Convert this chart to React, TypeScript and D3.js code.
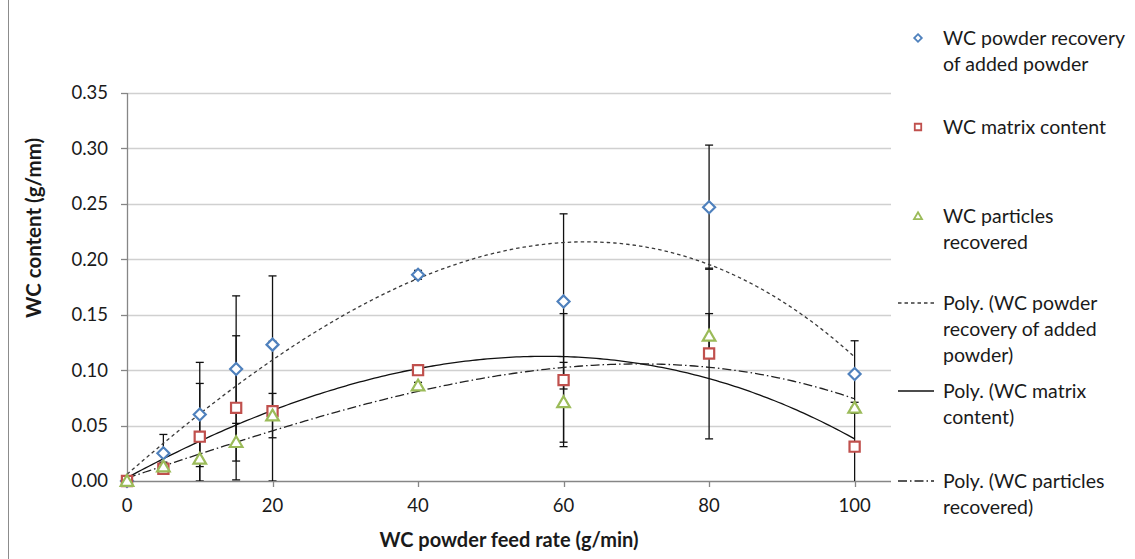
import React from 'react';
import * as d3 from 'd3';

// WC powder feed rate (g/min)
const feedRates = [0, 5, 10, 15, 20, 40, 60, 80, 100];

// WC content (g/mm) per series
const powderRecovery = [0, 0.025, 0.06, 0.101, 0.123, 0.186, 0.162, 0.247, 0.0965];
const matrixContent = [0, 0.011, 0.04, 0.066, 0.063, 0.1, 0.091, 0.115, 0.031];
const particlesRecovered = [0, 0.013, 0.02, 0.035, 0.059, 0.086, 0.071, 0.131, 0.066];

// Error bar half-widths (g/mm)
const powderRecoveryErr = [0, 0.017, 0.047, 0.066, 0.062, 0.004, 0.079, 0.056, 0.03];
const matrixContentErr = [0, 0.005, 0.048, 0.065, 0.063, 0.002, 0.06, 0.077, 0.035];
const particlesRecoveredErr = [0, 0.004, 0.02, 0.017, 0.02, 0.003, 0.036, 0.02, 0.005];

const yTicks = [0, 0.05, 0.1, 0.15, 0.2, 0.25, 0.3, 0.35];
const xTicks = [0, 20, 40, 60, 80, 100];

const TREND_ORDER = 3;

const FONT = "Lato, 'Open Sans', sans-serif";
const W = 1135;
const H = 559;

// Least-squares polynomial fit (normal equations, x scaled for stability)
function polyfit(xs: number[], ys: number[], order: number) {
  const n = order + 1;
  const s = 100;
  const A: number[][] = Array.from({ length: n }, () => new Array(n + 1).fill(0));
  xs.forEach((xr, k) => {
    const x = xr / s;
    for (let i = 0; i < n; i++) {
      for (let j = 0; j < n; j++) A[i][j] += Math.pow(x, i + j);
      A[i][n] += ys[k] * Math.pow(x, i);
    }
  });
  for (let c = 0; c < n; c++) {
    let p = c;
    for (let r = c + 1; r < n; r++) if (Math.abs(A[r][c]) > Math.abs(A[p][c])) p = r;
    [A[c], A[p]] = [A[p], A[c]];
    for (let r = 0; r < n; r++) {
      if (r === c) continue;
      const f = A[r][c] / A[c][c];
      for (let k = c; k <= n; k++) A[r][k] -= f * A[c][k];
    }
  }
  const coef = A.map((row, i) => row[n] / row[i]);
  return (xr: number) => coef.reduce((acc, cf, i) => acc + cf * Math.pow(xr / s, i), 0);
}

type Marker = 'diamond' | 'square' | 'triangle';

const series = [
  { name: 'powder', values: powderRecovery, errs: powderRecoveryErr, color: '#4f81bd', marker: 'diamond' as Marker, dash: '3.5,3', trendColor: '#3a3a3a' },
  { name: 'matrix', values: matrixContent, errs: matrixContentErr, color: '#c0504d', marker: 'square' as Marker, dash: '', trendColor: '#111' },
  { name: 'particles', values: particlesRecovered, errs: particlesRecoveredErr, color: '#9bbb59', marker: 'triangle' as Marker, dash: '9,3,1.5,3', trendColor: '#222' },
];

function markerPath(m: Marker, r: number) {
  if (m === 'diamond') return `M0,${-r}L${r},0L0,${r}L${-r},0Z`;
  if (m === 'square') { const h = r * 0.85; return `M${-h},${-h}H${h}V${h}H${-h}Z`; }
  return `M0,${-r}L${r * 1.05},${r * 0.8}L${-r * 1.05},${r * 0.8}Z`;
}

export default function App() {
  const left = 127, right = 891, top = 93, bottom = 481;
  const x = d3.scaleLinear().domain([0, 105]).range([left, right]);
  const y = d3.scaleLinear().domain([0, 0.35]).range([bottom, top]);
  const fmt = d3.format('.2f');
  const curveX = d3.range(0, 100.001, 0.5);
  const line = d3.line<[number, number]>().x(d => x(d[0])).y(d => y(d[1]));

  const legendText = { fontFamily: FONT, fontSize: 19.5, fill: '#1a1a1a' } as const;
  const legendItems = [
    { kind: 'marker', s: series[0], y: 38, lines: ['WC powder recovery', 'of added powder'] },
    { kind: 'marker', s: series[1], y: 127, lines: ['WC matrix content'] },
    { kind: 'marker', s: series[2], y: 216, lines: ['WC particles', 'recovered'] },
    { kind: 'line', s: series[0], y: 303, lines: ['Poly. (WC powder', 'recovery of added', 'powder)'] },
    { kind: 'line', s: series[1], y: 391, lines: ['Poly. (WC matrix', 'content)'] },
    { kind: 'line', s: series[2], y: 481, lines: ['Poly. (WC particles', 'recovered)'] },
  ];

  return (
    <svg width={W} height={H} style={{ position: 'absolute', left: 0, top: 0, background: '#fff' }}>
      <defs>
        <clipPath id="plot-clip">
          <rect x={left} y={top} width={right - left} height={bottom - top} />
        </clipPath>
      </defs>
      <line x1={8.5} x2={8.5} y1={0} y2={H} stroke="#8c8c8c" strokeWidth={1} />

      {/* gridlines */}
      {yTicks.filter(t => t > 0).map(t => (
        <line key={t} x1={left} x2={right} y1={Math.round(y(t)) + 0.5} y2={Math.round(y(t)) + 0.5} stroke="#d0d0d0" strokeWidth={1.3} />
      ))}

      {/* axes */}
      <line x1={left + 0.5} x2={left + 0.5} y1={top} y2={bottom} stroke="#868686" strokeWidth={1.3} />
      <line x1={left} x2={right} y1={bottom + 0.5} y2={bottom + 0.5} stroke="#868686" strokeWidth={1.3} />
      {yTicks.map(t => (
        <g key={t}>
          <line x1={left - 6} x2={left} y1={Math.round(y(t)) + 0.5} y2={Math.round(y(t)) + 0.5} stroke="#868686" strokeWidth={1.3} />
          <text x={108} y={y(t)} dy="0.35em" textAnchor="end" fontFamily={FONT} fontSize={18.5} fill="#1a1a1a">{fmt(t)}</text>
        </g>
      ))}
      {xTicks.map(t => (
        <g key={t}>
          <line x1={Math.round(x(t)) + 0.5} x2={Math.round(x(t)) + 0.5} y1={bottom} y2={bottom + 6} stroke="#868686" strokeWidth={1.3} />
          <text x={x(t)} y={506} dy="0.35em" textAnchor="middle" fontFamily={FONT} fontSize={18.5} fill="#1a1a1a">{t}</text>
        </g>
      ))}
      <text x={509} y={540} dy="0.35em" textAnchor="middle" fontFamily={FONT} fontSize={20} fontWeight="bold" fill="#1a1a1a">WC powder feed rate (g/min)</text>
      <text transform="translate(34,228) rotate(-90)" dy="0.35em" textAnchor="middle" fontFamily={FONT} fontSize={20.5} fontWeight="bold" fill="#1a1a1a">WC content (g/mm)</text>

      <g clipPath="url(#plot-clip)">
        {/* error bars */}
        {series.map(s => (
          <g key={s.name + '-err'}>
            {feedRates.map((fr, i) => s.errs[i] > 0 && (
              <g key={fr} stroke="#111" strokeWidth={1.3}>
                <line x1={x(fr)} x2={x(fr)} y1={y(s.values[i] + s.errs[i])} y2={y(s.values[i] - s.errs[i])} />
                <line x1={x(fr) - 4} x2={x(fr) + 4} y1={y(s.values[i] + s.errs[i])} y2={y(s.values[i] + s.errs[i])} />
                <line x1={x(fr) - 4} x2={x(fr) + 4} y1={y(s.values[i] - s.errs[i])} y2={y(s.values[i] - s.errs[i])} />
              </g>
            ))}
          </g>
        ))}

        {/* trend lines */}
        {series.map(s => {
          const f = polyfit(feedRates, s.values, TREND_ORDER);
          const pts: [number, number][] = curveX.map(v => [v, f(v)]);
          return <path key={s.name + '-trend'} d={line(pts) ?? ''} fill="none" stroke={s.trendColor} strokeWidth={1.3} strokeDasharray={s.dash || undefined} />;
        })}
      </g>

      {/* markers */}
      {series.map(s => (
        <g key={s.name + '-pts'}>
          {feedRates.map((fr, i) => (
            <path key={fr} d={markerPath(s.marker, 6)} transform={`translate(${x(fr)},${y(s.values[i])})`} fill="#fff" stroke={s.color} strokeWidth={2.2} />
          ))}
        </g>
      ))}

      {/* legend */}
      {legendItems.map((it, k) => (
        <g key={k}>
          {it.kind === 'marker' ? (
            <path d={markerPath(it.s.marker, 3.8)} transform={`translate(918,${it.y})`} fill="#fff" stroke={it.s.color} strokeWidth={1.8} />
          ) : (
            <line x1={898} x2={934} y1={it.y} y2={it.y} stroke={it.s.trendColor} strokeWidth={1.3} strokeDasharray={it.s.dash || undefined} />
          )}
          {it.lines.map((t, j) => (
            <text key={j} x={943} y={it.y + j * 26} dy="0.35em" {...legendText}>{t}</text>
          ))}
        </g>
      ))}
    </svg>
  );
}
